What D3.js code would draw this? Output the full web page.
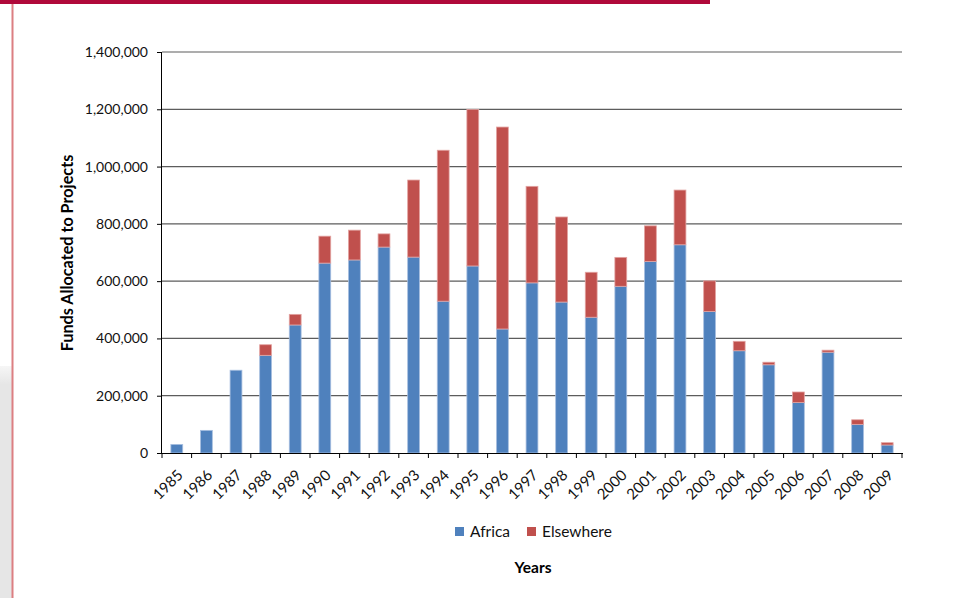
<!DOCTYPE html>
<html>
<head>
<meta charset="utf-8">
<script src="https://cdn.jsdelivr.net/npm/d3@7"></script>
<style>
  body { margin: 0; background: #fff; }
  svg { display: block; font-family: Lato, 'Open Sans', sans-serif; }
</style>
</head>
<body>
<div id="chartwrap"></div>
<script>
const WIDTH = 957;
const HEIGHT = 598;

const chart = {
  left: 162,
  right: 902,
  top: 52,
  bottom: 453
};

const years = ['1985', '1986', '1987', '1988', '1989', '1990', '1991', '1992', '1993', '1994',
  '1995', '1996', '1997', '1998', '1999', '2000', '2001', '2002', '2003', '2004',
  '2005', '2006', '2007', '2008', '2009'];

const africa = [30000, 79000, 289000, 341000, 447000, 663000, 674000, 719000, 684000, 530000,
  653000, 433000, 594000, 527000, 474000, 582000, 669000, 727000, 494000, 357000,
  308000, 176000, 352000, 100000, 28000];

const elsewhere = [0, 0, 0, 37000, 37000, 94000, 104000, 46000, 269000, 527000,
  546000, 705000, 337000, 297000, 157000, 101000, 124000, 191000, 107000, 33000,
  9000, 37000, 7000, 16000, 8000];

const series = ['Africa', 'Elsewhere'];
const colors = ['#4F81BD', '#C0504D'];
const edges = ['#a7bfe0', '#e3a3a1'];

const yTicks = [0, 200000, 400000, 600000, 800000, 1000000, 1200000, 1400000];

const table = years.map((y, i) => ({ year: y, Africa: africa[i], Elsewhere: elsewhere[i] }));
const stacked = d3.stack().keys(series)(table);

const svg = d3.select('#chartwrap')
  .append('svg')
  .attr('width', WIDTH)
  .attr('height', HEIGHT);

// page decoration from the slide
const fade = svg.append('defs').append('linearGradient')
  .attr('id', 'fade')
  .attr('x1', 0).attr('y1', 0).attr('x2', 0).attr('y2', 1);
fade.append('stop').attr('offset', 0).attr('stop-color', '#f6f6f6');
fade.append('stop').attr('offset', 0.08).attr('stop-color', '#e6e6e6');
fade.append('stop').attr('offset', 1).attr('stop-color', '#e6e6e6');

svg.append('rect')
  .attr('x', 0).attr('y', 366)
  .attr('width', 12).attr('height', HEIGHT - 366)
  .attr('fill', 'url(#fade)');

svg.append('rect')
  .attr('x', 11.5).attr('y', 0)
  .attr('width', 2).attr('height', HEIGHT)
  .attr('fill', '#dc7f82');

svg.append('rect')
  .attr('x', 0).attr('y', 0)
  .attr('width', 710).attr('height', 4)
  .attr('fill', '#b0093a');

const yScale = d3.scaleLinear()
  .domain([0, 1400000])
  .range([chart.bottom, chart.top]);

const xScale = d3.scaleBand()
  .domain(years)
  .range([chart.left, chart.right])
  .paddingInner(0.6)
  .paddingOuter(0.3);

const xCells = d3.scaleBand()
  .domain(years)
  .range([chart.left, chart.right]);

// gridlines
svg.append('g')
  .selectAll('line')
  .data(yTicks.filter(d => d > 0))
  .enter()
  .append('line')
  .attr('x1', chart.left)
  .attr('x2', chart.right)
  .attr('y1', d => yScale(d))
  .attr('y2', d => yScale(d))
  .attr('stroke', '#5c5c5c')
  .attr('stroke-width', 1.2);

// bars
svg.append('g')
  .selectAll('g')
  .data(stacked)
  .enter()
  .append('g')
  .attr('fill', (d, i) => colors[i])
  .attr('stroke', (d, i) => edges[i])
  .selectAll('rect')
  .data(d => d.filter(p => p[1] > p[0]))
  .enter()
  .append('rect')
  .attr('x', d => xScale(d.data.year))
  .attr('width', xScale.bandwidth())
  .attr('y', d => yScale(d[1]))
  .attr('height', d => yScale(d[0]) - yScale(d[1]))
  .attr('stroke-width', 0.8);

// y axis
const yAxis = d3.axisLeft(yScale)
  .tickValues(yTicks)
  .tickFormat(d3.format(','))
  .tickSize(5)
  .tickPadding(9);

const yg = svg.append('g')
  .attr('id', 'y-axis')
  .attr('transform', `translate(${chart.left},0)`)
  .call(yAxis);
yg.select('.domain').attr('stroke', '#000').attr('d', `M-0.5,${chart.top}V${chart.bottom}`);
yg.selectAll('.tick line').attr('stroke', '#000');
yg.selectAll('.tick text')
  .attr('font-size', 14)
  .attr('fill', '#111')
  .attr('font-family', 'Lato, sans-serif');

// x axis
const xg = svg.append('g')
  .attr('id', 'x-axis');

xg.append('line')
  .attr('x1', chart.left - 1)
  .attr('x2', chart.right + 1)
  .attr('y1', chart.bottom + 0.5)
  .attr('y2', chart.bottom + 0.5)
  .attr('stroke', '#000');

xg.selectAll('.xtick')
  .data(years.concat(['end']))
  .enter()
  .append('line')
  .attr('class', 'xtick')
  .attr('x1', d => d === 'end' ? chart.right : xCells(d))
  .attr('x2', d => d === 'end' ? chart.right : xCells(d))
  .attr('y1', chart.bottom)
  .attr('y2', chart.bottom + 5)
  .attr('stroke', '#000');

xg.selectAll('.xlabel')
  .data(years)
  .enter()
  .append('text')
  .attr('class', 'xlabel')
  .attr('text-anchor', 'end')
  .attr('font-size', 15)
  .attr('fill', '#111')
  .attr('transform', d => `translate(${xCells(d) + xCells.bandwidth() / 2 + 7},${chart.bottom + 23}) rotate(-45)`)
  .text(d => d);

// axis titles
svg.append('text')
  .attr('text-anchor', 'middle')
  .attr('font-weight', 'bold')
  .attr('font-size', 16.2)
  .attr('transform', 'translate(73,253) rotate(-90)')
  .text('Funds Allocated to Projects');

svg.append('text')
  .attr('text-anchor', 'middle')
  .attr('font-weight', 'bold')
  .attr('font-size', 15.5)
  .attr('x', 533)
  .attr('y', 573)
  .text('Years');

// legend
const legendX = [455, 527];
const lg = svg.append('g')
  .selectAll('g')
  .data(series)
  .enter()
  .append('g')
  .attr('transform', (d, i) => `translate(${legendX[i]},527)`);

lg.append('rect')
  .attr('width', 9)
  .attr('height', 9)
  .attr('fill', (d, i) => colors[i]);

lg.append('text')
  .attr('x', 15)
  .attr('y', 10)
  .attr('font-size', 15.5)
  .attr('fill', '#111')
  .text(d => d);
</script>
</body>
</html>
